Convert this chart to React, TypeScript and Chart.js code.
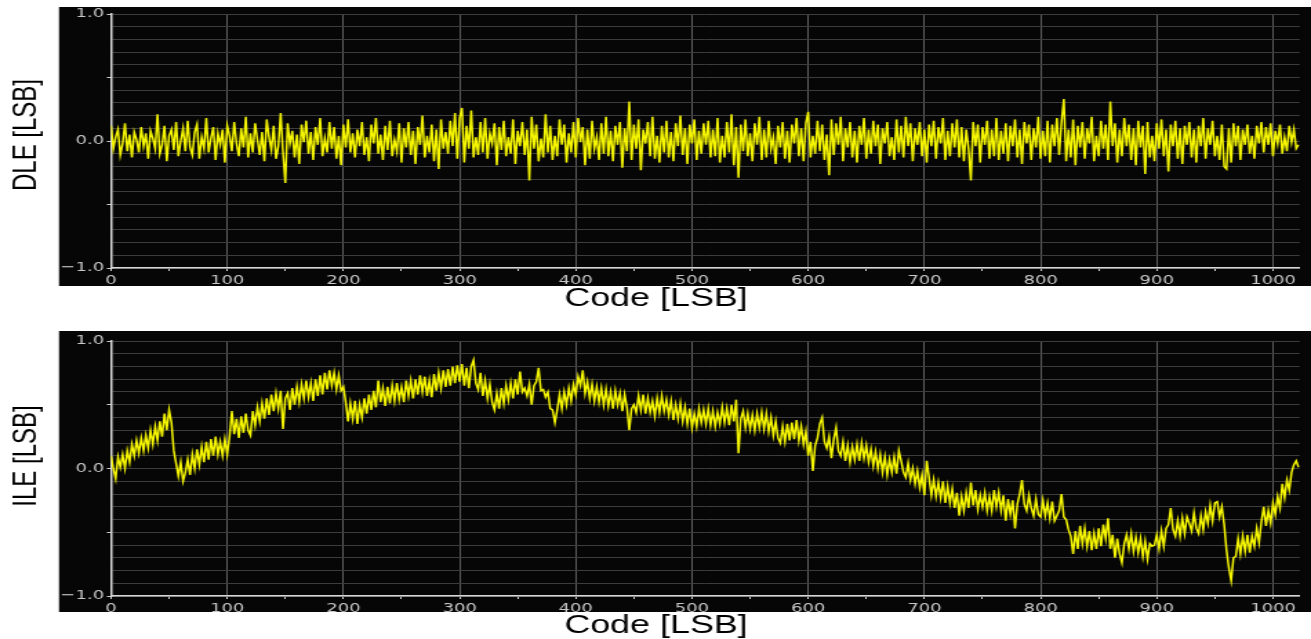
import { useEffect, useRef } from 'react';
import { Chart, registerables } from 'chart.js';

Chart.register(...registerables);

// ---- data (values in hundredths of an LSB, one value every 2 codes) ----
const codes: number[] = Array.from({ length: 512 }, (_, i) => i * 2);

const dleCenti: number[] = [
  12,-6,3,9,-11,-2,14,-8,5,-13,7,1,-9,11,-4,6,
  -14,8,2,-6,21,-10,-3,12,-16,4,9,-7,15,-12,0,10,
  -8,16,-5,-11,7,13,-14,3,-6,18,-9,2,11,-15,6,-3,
  9,-17,12,4,-8,15,-2,-12,10,-5,19,-13,6,-9,14,1,
  -11,7,-16,17,3,-7,12,-14,-4,22,-9,-33,14,-2,8,-13,
  5,-18,13,-1,16,-10,7,-15,11,-3,18,-12,2,-9,15,-6,
  11,-14,4,-19,13,-5,17,-9,6,-13,9,-4,15,-11,3,-16,
  13,-2,18,-10,5,-15,12,-7,16,-12,1,-8,14,-17,10,-5,
  15,-11,8,-18,11,-3,20,-13,4,-9,13,-16,9,-22,17,-6,
  7,-10,16,-4,22,-14,18,26,-17,12,-6,24,-13,3,-11,15,
  -9,18,-14,6,-2,14,-19,11,-7,16,-12,3,-10,17,-18,8,
  -4,15,-11,9,-31,19,-6,13,-16,2,-13,21,-9,12,-15,4,
  -12,17,-3,13,-17,6,-9,15,-13,18,-1,11,-19,9,-14,16,
  -6,3,-15,14,-10,19,-12,8,-16,12,-3,15,-21,10,-8,31,
  -15,13,-6,17,-23,9,-2,15,-12,19,-14,4,-17,12,-9,16,
  -13,7,-16,14,-4,20,-11,10,-18,13,-2,17,-15,8,-10,14,
  -3,16,-13,9,-12,18,-17,4,-13,15,-9,21,-19,11,-29,13,
  -8,17,-12,6,-16,14,-3,19,-15,9,-13,16,-6,3,-18,12,
  -5,15,-14,8,-17,13,-2,18,-12,10,-16,14,23,-13,4,-10,
  16,-8,13,-15,5,-27,17,-11,14,-3,19,-16,10,-5,15,-13,
  8,-17,12,-3,18,-14,9,-10,16,-4,13,-18,10,-2,15,-12,
  3,-15,17,-9,12,-13,19,-4,14,-16,10,-3,15,-12,9,-17,
  13,-4,16,-14,11,-2,18,-15,8,-12,14,-5,17,-13,11,-16,
  9,-6,-31,15,-4,13,-17,11,-3,16,-14,9,-12,18,-15,8,
  -10,14,-16,12,-4,17,-13,9,-18,15,-2,13,-15,10,-5,19,
  -14,8,-12,16,-17,13,-4,18,-11,15,33,-16,9,-13,17,-19,
  12,-5,15,-14,10,-2,19,-16,4,-12,16,-6,13,-15,31,-4,
  14,-17,9,-12,18,-4,13,-15,10,-19,16,-5,12,-26,15,-13,
  4,-16,14,-6,17,-12,9,-24,13,-4,16,-14,10,-18,12,-3,
  15,-13,9,-17,12,-4,18,-14,10,-3,16,-12,4,-15,13,-20,
  -22,10,-17,14,-4,12,-15,9,-3,13,-10,4,-14,12,-2,15,
  -9,11,-3,14,-12,8,-2,13,-10,3,-8,12,-1,9,-6,-3,
];

const ileCenti: number[] = [
  10,0,-8,9,1,11,0,14,5,19,10,22,12,24,14,26,
  16,30,19,33,22,37,25,43,30,46,36,14,4,-6,5,-10,
  -3,7,-5,11,0,15,3,17,5,21,7,23,10,25,11,21,
  10,23,11,25,45,27,39,24,41,28,43,30,26,45,34,48,
  37,51,39,55,42,58,45,59,47,61,31,55,59,46,63,50,
  64,52,66,55,69,56,67,53,70,57,73,58,75,62,77,65,
  75,62,73,61,64,52,37,51,39,53,35,50,40,55,43,58,
  46,61,48,69,52,63,49,64,51,65,53,67,54,64,52,69,
  57,69,55,70,58,73,60,72,57,69,56,74,61,75,63,77,
  64,78,65,80,67,81,68,82,65,79,63,80,85,67,62,75,
  57,69,55,66,52,46,59,47,63,51,65,54,67,55,70,58,
  76,60,63,57,66,50,65,68,79,61,62,56,60,47,46,36,
  46,58,47,60,50,63,53,66,58,72,65,77,59,68,55,66,
  53,64,52,63,50,62,49,60,47,61,50,59,45,58,48,30,
  47,50,44,57,46,58,43,55,44,53,41,55,44,57,45,54,
  42,53,38,50,39,51,37,48,35,47,32,43,33,47,36,46,
  35,47,34,45,33,44,35,48,36,47,34,50,37,54,12,39,
  45,32,43,31,42,30,43,32,44,31,43,29,40,26,37,24,
  20,33,21,35,22,36,23,38,22,33,19,29,10,21,-2,18,
  24,35,40,21,16,25,8,23,32,14,10,21,6,18,5,17,
  7,19,6,20,8,18,5,15,2,13,0,11,-3,9,-5,7,
  -3,9,-4,14,6,-3,-7,4,-9,0,-12,-2,-15,-5,-21,6,
  -7,-21,-9,-22,-11,-23,-10,-27,-14,-27,-16,-31,-19,-37,-22,-33,
  -19,-31,-11,-29,-17,-32,-21,-30,-19,-33,-22,-33,-17,-30,-19,-33,
  -21,-41,-24,-36,-25,-47,-28,-20,-9,-28,-33,-21,-31,-37,-24,-36,
  -38,-25,-37,-27,-39,-26,-41,-37,-33,-20,-38,-40,-48,-53,-67,-49,
  -63,-45,-59,-47,-61,-49,-64,-51,-63,-47,-61,-44,-55,-39,-63,-52,
  -70,-55,-67,-74,-59,-52,-63,-51,-65,-54,-66,-55,-69,-57,-71,-59,
  -61,-60,-52,-63,-49,-61,-47,-44,-31,-48,-53,-41,-53,-39,-51,-38,
  -43,-49,-35,-47,-51,-37,-48,-34,-43,-29,-41,-27,-26,-38,-30,-44,
  -64,-78,-88,-70,-69,-55,-67,-53,-65,-52,-66,-53,-61,-47,-58,-42,
  -30,-45,-33,-43,-27,-36,-22,-31,-12,-23,-9,-17,-3,3,6,1,
];

const xTickLabels: string[] = ['0', '100', '200', '300', '400', '500', '600', '700', '800', '900', '1000'];
const yTickLabels: Record<string, string> = { '10': '1.0', '0': '0.0', '-10': '\u22121.0' };
const xTitle = 'Code [LSB]';

// ---- layout (screen px; canvas is drawn narrower and stretched horizontally) ----
const SCREEN_W = 1311;
const INNER_W = 950;
const S = SCREEN_W / INNER_W;

const framePlugin = {
  id: 'frame',
  beforeDraw(chart: any, _a: any, o: any) {
    const ctx = chart.ctx;
    ctx.save();
    ctx.fillStyle = '#060606';
    ctx.fillRect(o.left, o.top, INNER_W - o.left, o.bottom - o.top);
    ctx.restore();
  },
  afterDraw(chart: any, _a: any, o: any) {
    const ctx = chart.ctx;
    ctx.save();
    ctx.fillStyle = '#000';
    ctx.textAlign = 'center';
    ctx.textBaseline = 'middle';
    ctx.font = '26px "Liberation Sans", Arial, sans-serif';
    ctx.fillText(o.xTitle, o.xTitleX, o.xTitleY);
    ctx.translate(o.yTitleX, o.yTitleY);
    ctx.rotate(-Math.PI / 2);
    ctx.font = '24px "Liberation Sans", Arial, sans-serif';
    ctx.fillText(o.yTitle, 0, 0);
    ctx.restore();
  },
};

type PanelProps = {
  values: number[];
  yTitle: string;
  top: number;
  height: number;
  chartTop: number;
  chartBottom: number;
  frameTop: number;
  frameBottom: number;
  xTitleY: number;
  yTitleY: number;
};

function Panel(p: PanelProps) {
  const ref = useRef<HTMLCanvasElement | null>(null);
  useEffect(() => {
    const canvas = ref.current;
    if (!canvas) return;
    const points = p.values.map((v, i) => ({ x: codes[i], y: v / 100 }));
    const tickFont = { family: '"DejaVu Sans", Verdana, sans-serif', size: 13 };
    const chart = new Chart(canvas, {
      type: 'line',
      data: {
        datasets: [
          {
            data: points,
            borderColor: '#f5f500',
            borderWidth: 1.5,
            pointRadius: 0,
            tension: 0,
            fill: false,
          },
        ],
      },
      options: {
        responsive: false,
        animation: false,
        devicePixelRatio: 1,
        events: [],
        layout: {
          padding: { top: p.chartTop, right: INNER_W - 1299.7 / S, bottom: 0, left: 0 },
        },
        plugins: {
          legend: { display: false },
          tooltip: { enabled: false },
          frame: {
            left: 59 / S,
            top: p.frameTop,
            bottom: p.frameBottom,
            xTitle,
            xTitleX: 656 / S,
            xTitleY: p.xTitleY,
            yTitle: p.yTitle,
            yTitleX: 27 / S,
            yTitleY: p.yTitleY,
          },
        } as any,
        scales: {
          x: {
            type: 'linear',
            min: 0,
            max: 1023,
            afterFit: (scale: any) => {
              scale.height = p.height - p.chartBottom;
            },
            border: { display: true, color: '#d8d8d8', width: 1.5 },
            grid: {
              color: (c: any) => (c.tick && c.tick.value % 100 === 0 ? '#5e5e5e' : 'rgba(0,0,0,0)'),
              tickColor: '#d0d0d0',
              tickLength: 3,
              drawOnChartArea: true,
            },
            ticks: {
              stepSize: 50,
              includeBounds: false,
              autoSkip: false,
              maxRotation: 0,
              padding: 2,
              color: '#c8c8c8',
              font: tickFont,
              callback: (v: any) => {
                const n = Number(v);
                return n % 100 === 0 ? xTickLabels[n / 100] ?? '' : '';
              },
            },
          },
          y: {
            type: 'linear',
            min: -1,
            max: 1,
            afterFit: (scale: any) => {
              scale.width = 111 / S;
            },
            border: { display: true, color: '#d8d8d8', width: 1.5 },
            grid: {
              color: '#3d3d3d',
              tickColor: (c: any) =>
                c.tick && Math.round(c.tick.value * 10) % 5 === 0 ? '#d0d0d0' : 'rgba(0,0,0,0)',
              tickLength: 3,
            },
            ticks: {
              stepSize: 0.1,
              includeBounds: false,
              autoSkip: false,
              padding: 2,
              color: '#c8c8c8',
              font: tickFont,
              callback: (v: any) => yTickLabels[String(Math.round(Number(v) * 10))] ?? '',
            },
          },
        },
      },
      plugins: [framePlugin as any],
    });
    return () => chart.destroy();
  }, []);
  return (
    <canvas
      ref={ref}
      width={INNER_W}
      height={p.height}
      style={{
        position: 'absolute',
        left: 0,
        top: p.top,
        width: SCREEN_W + 'px',
        height: p.height + 'px',
        display: 'block',
      }}
    />
  );
}

export default function App() {
  return (
    <div
      style={{
        position: 'absolute',
        left: 0,
        top: 0,
        width: SCREEN_W,
        height: 639,
        background: '#fff',
        overflow: 'hidden',
      }}
    >
      <Panel
        values={dleCenti}
        yTitle="DLE [LSB]"
        top={0}
        height={320}
        chartTop={14}
        chartBottom={268}
        frameTop={7}
        frameBottom={286}
        xTitleY={299}
        yTitleY={135}
      />
      <Panel
        values={ileCenti}
        yTitle="ILE [LSB]"
        top={320}
        height={319}
        chartTop={21}
        chartBottom={276}
        frameTop={11}
        frameBottom={292}
        xTitleY={306}
        yTitleY={136}
      />
    </div>
  );
}
